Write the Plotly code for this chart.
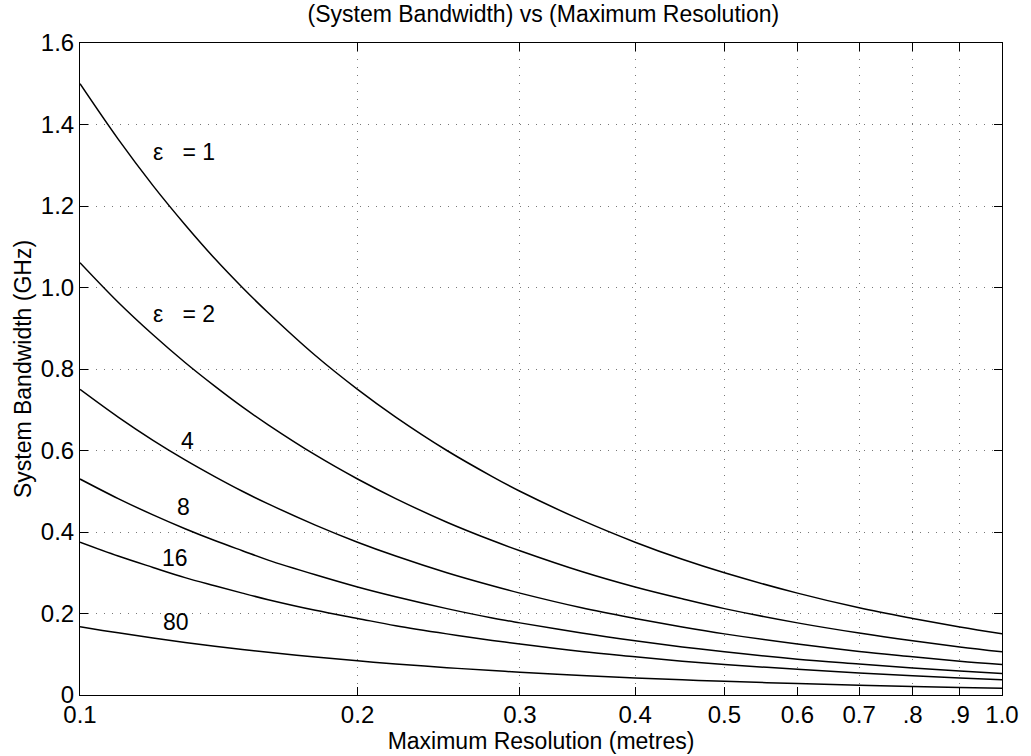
import math
import plotly.graph_objects as go

# Maximum resolution (metres)
resolution = [0.10, 0.11, 0.12, 0.13, 0.14, 0.15, 0.16, 0.18, 0.20, 0.22, 0.25,
              0.28, 0.30, 0.35, 0.40, 0.45, 0.50, 0.60, 0.70, 0.80, 0.90, 1.00]

# System bandwidth (GHz) for each relative permittivity
bw_eps1 = [1.500, 1.364, 1.250, 1.154, 1.071, 1.000, 0.938, 0.833, 0.750, 0.682, 0.600,
           0.536, 0.500, 0.429, 0.375, 0.333, 0.300, 0.250, 0.214, 0.188, 0.167, 0.150]
bw_eps2 = [1.061, 0.964, 0.884, 0.816, 0.758, 0.707, 0.663, 0.589, 0.530, 0.482, 0.424,
           0.379, 0.354, 0.303, 0.265, 0.236, 0.212, 0.177, 0.152, 0.133, 0.118, 0.106]
bw_eps4 = [0.750, 0.682, 0.625, 0.577, 0.536, 0.500, 0.469, 0.417, 0.375, 0.341, 0.300,
           0.268, 0.250, 0.214, 0.188, 0.167, 0.150, 0.125, 0.107, 0.094, 0.083, 0.075]
bw_eps8 = [0.530, 0.482, 0.442, 0.408, 0.379, 0.354, 0.331, 0.295, 0.265, 0.241, 0.212,
           0.189, 0.177, 0.152, 0.133, 0.118, 0.106, 0.088, 0.076, 0.066, 0.059, 0.053]
bw_eps16 = [0.375, 0.341, 0.313, 0.288, 0.268, 0.250, 0.234, 0.208, 0.188, 0.170, 0.150,
            0.134, 0.125, 0.107, 0.094, 0.083, 0.075, 0.063, 0.054, 0.047, 0.042, 0.0375]
bw_eps80 = [0.1677, 0.1525, 0.1398, 0.1290, 0.1198, 0.1118, 0.1048, 0.0932, 0.0839, 0.0762, 0.0671,
            0.0599, 0.0559, 0.0479, 0.0419, 0.0373, 0.0335, 0.0280, 0.0240, 0.0210, 0.0186, 0.0168]

series = [bw_eps1, bw_eps2, bw_eps4, bw_eps8, bw_eps16, bw_eps80]

x_tickvals = [0.1, 0.2, 0.3, 0.4, 0.5, 0.6, 0.7, 0.8, 0.9, 1.0]
x_ticktext = ["0.1", "0.2", "0.3", "0.4", "0.5", "0.6", "0.7", ".8", ".9", "1.0"]
y_tickvals = [0, 0.2, 0.4, 0.6, 0.8, 1.0, 1.2, 1.4, 1.6]
y_ticktext = ["0", "0.2", "0.4", "0.6", "0.8", "1.0", "1.2", "1.4", "1.6"]

# curve labels: (text, x, y)
curve_labels = [
    ("ε   = 1", 0.1295, 1.333),
    ("ε   = 2", 0.1295, 0.935),
    ("4", 0.1309, 0.624),
    ("8", 0.1295, 0.462),
    ("16", 0.1267, 0.335),
    ("80", 0.1270, 0.179),
]

FONT = "Liberation Sans, Arial, Helvetica, sans-serif"

fig = go.Figure()
for ys in series:
    fig.add_trace(go.Scatter(x=resolution, y=ys, mode="lines",
                             line=dict(color="black", width=1.5, shape="spline"),
                             showlegend=False, hoverinfo="skip"))

for text, lx, ly in curve_labels:
    fig.add_annotation(x=math.log10(lx), y=ly, text=text, showarrow=False,
                       xref="x", yref="y", font=dict(family=FONT, size=23, color="black"))

axis_common = dict(showline=True, linecolor="black", linewidth=1, mirror="ticks",
                   ticks="inside", ticklen=8, tickcolor="black", tickwidth=1,
                   showgrid=True, gridcolor="#777777", griddash="1px,7px", gridwidth=1,
                   zeroline=False, tickfont=dict(family=FONT, size=24, color="black"))

fig.update_layout(
    width=1031, height=756,
    margin=dict(l=80, r=26, t=43, b=59),
    paper_bgcolor="white", plot_bgcolor="white",
    title=dict(text="(System Bandwidth) vs (Maximum Resolution)", x=0.527, xanchor="center",
               y=0.982, yanchor="middle",
               font=dict(family=FONT, size=23, color="black")),
    xaxis=dict(type="log", range=[-1, 0], tickvals=x_tickvals, ticktext=x_ticktext,
               ticklabelstandoff=-2,
               title=dict(text="Maximum Resolution (metres)", standoff=0,
                          font=dict(family=FONT, size=23, color="black")),
               **axis_common),
    yaxis=dict(range=[0, 1.6], tickvals=y_tickvals, ticktext=y_ticktext,
               title=dict(text="System Bandwidth (GHz)", standoff=2,
                          font=dict(family=FONT, size=23, color="black")),
               **axis_common),
)

fig.write_html("out.html")
